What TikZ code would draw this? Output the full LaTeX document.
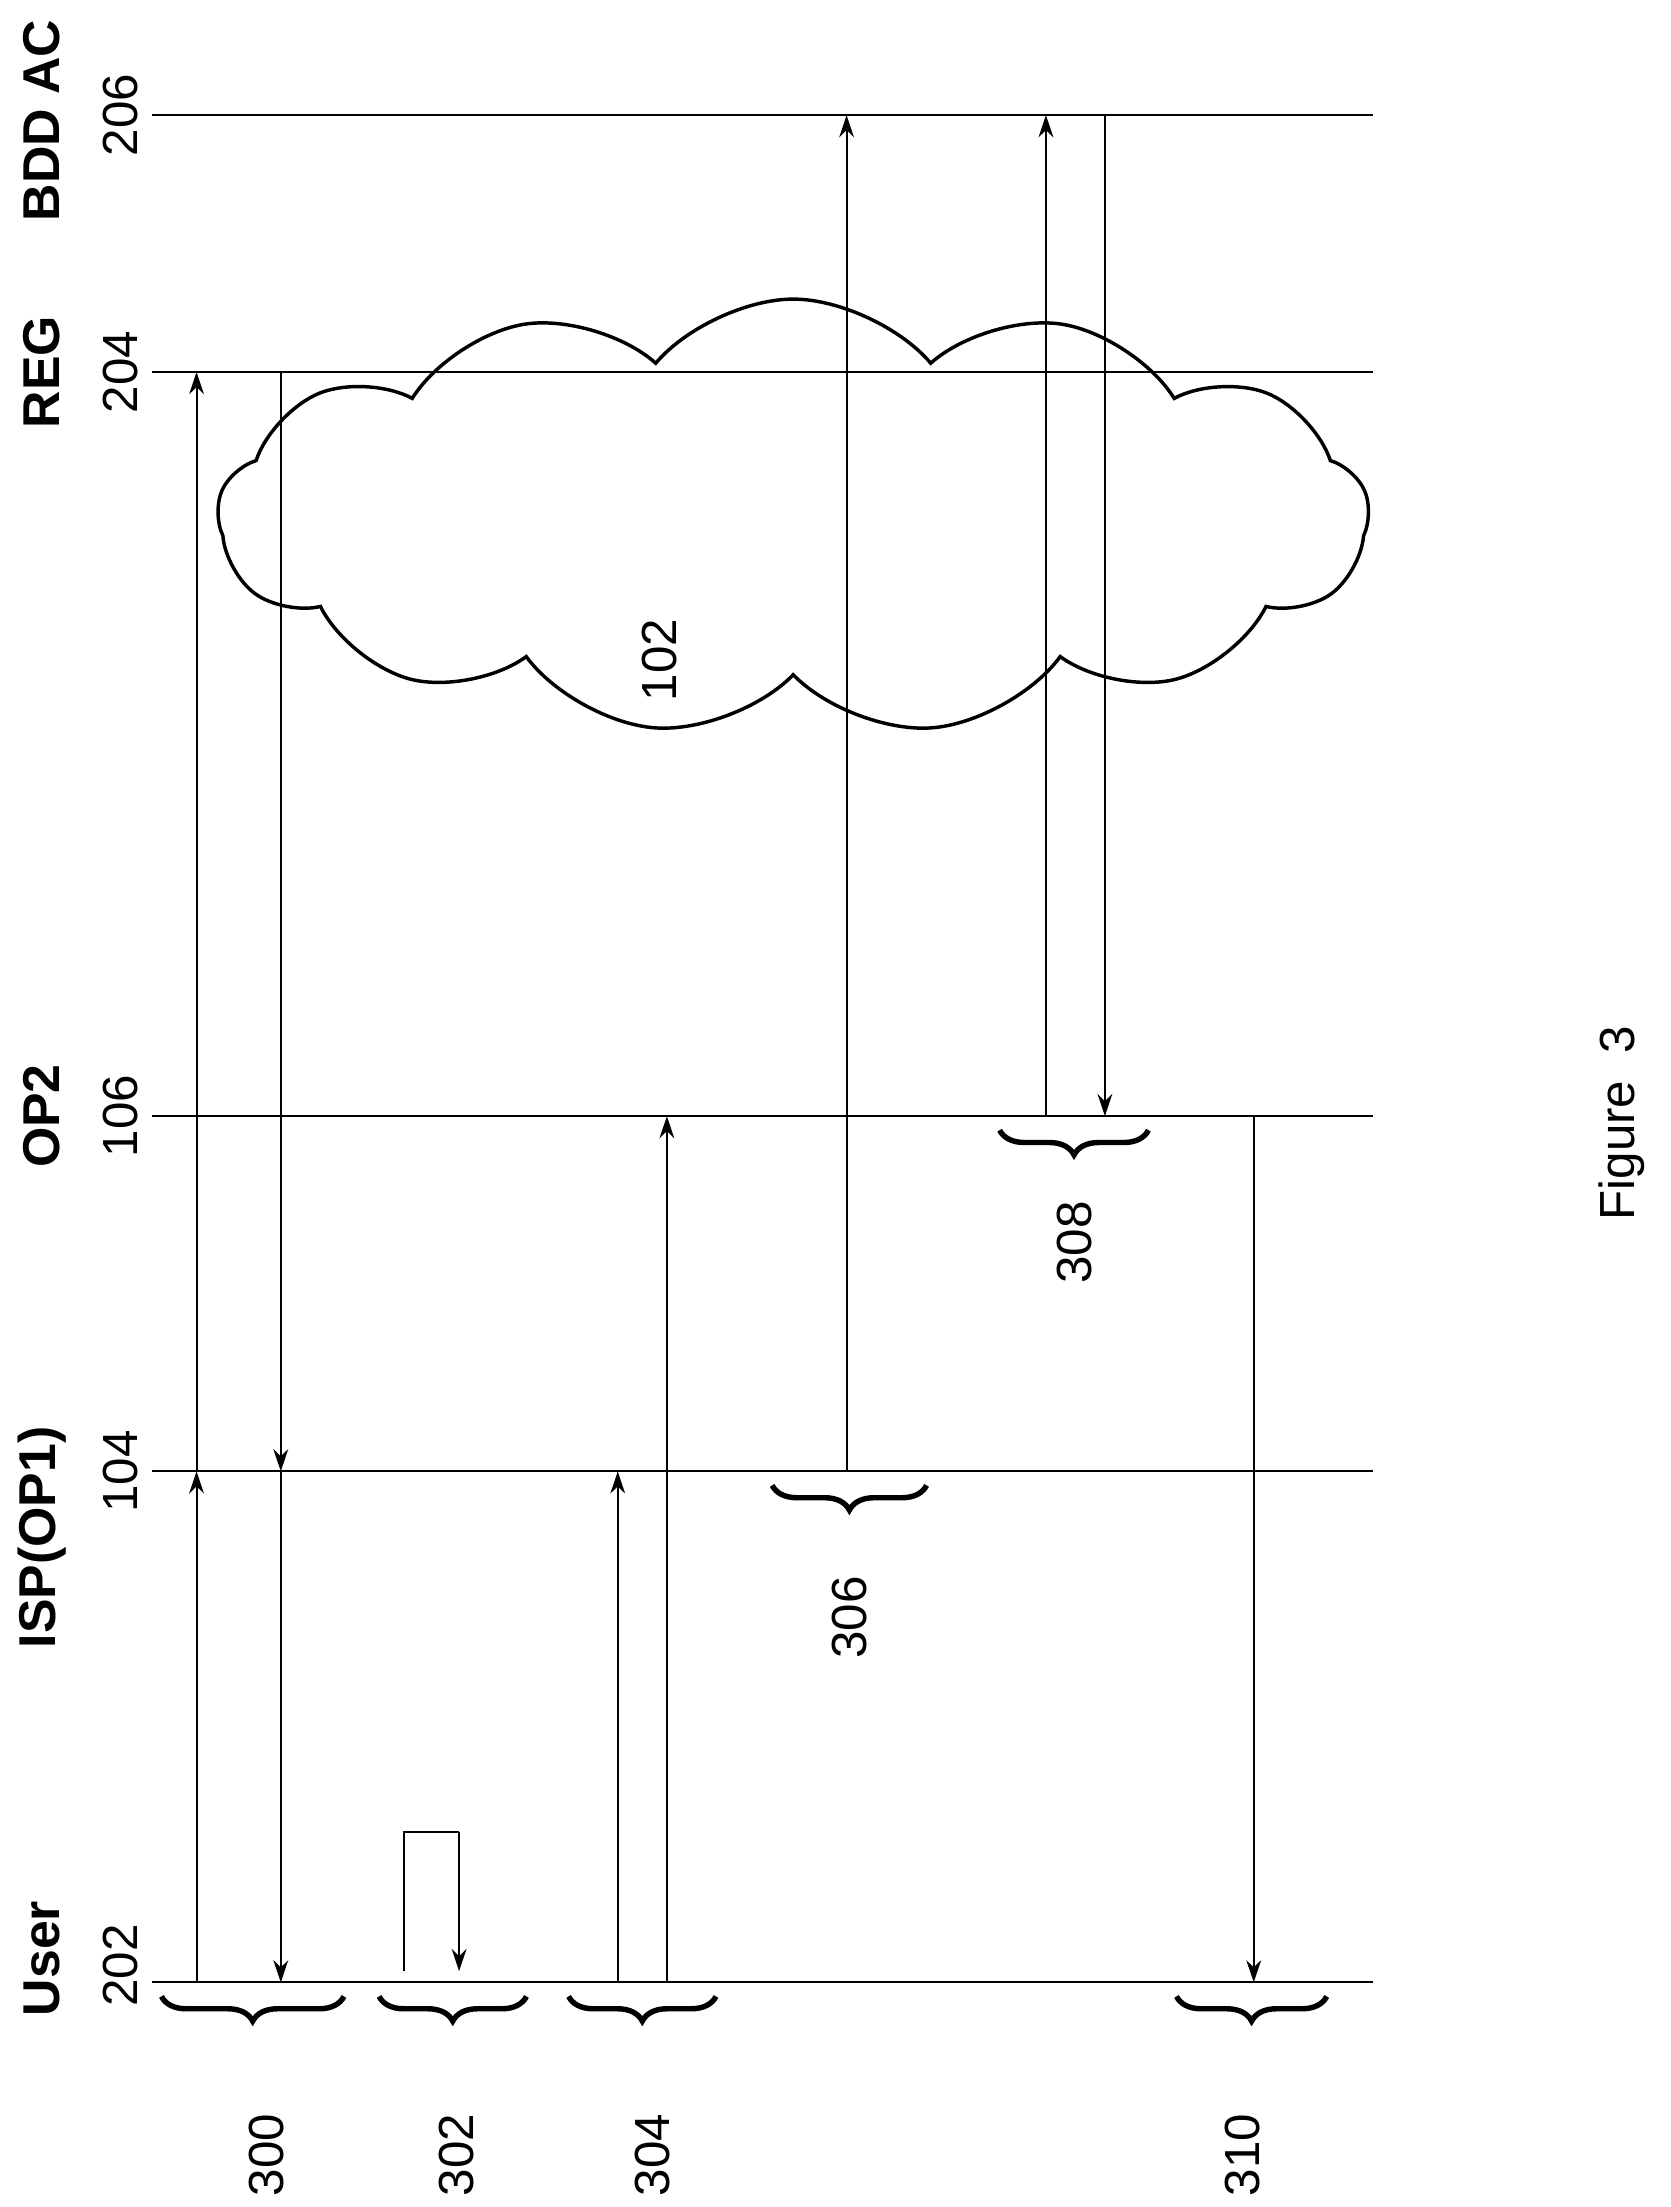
\documentclass[tikz,border=0pt]{standalone}
\usepackage{fontspec}
\setmainfont{Liberation Sans}
\usetikzlibrary{shapes.symbols,decorations.pathreplacing,arrows.meta,calc}
\begin{document}
\begin{tikzpicture}[x=0.02cm,y=-0.02cm,
  life/.style={line width=0.8pt},
  msg/.style={line width=0.8pt,-{Stealth[length=9pt,width=6pt]}},
  brc/.style={decorate,decoration={brace,amplitude=10pt,mirror},line width=2.2pt},
  lbl/.style={rotate=90,font=\fontsize{20}{24}\selectfont},
  hd/.style={rotate=90,font=\bfseries\fontsize{21}{25}\selectfont,inner sep=1pt}]
\useasboundingbox (0,0) rectangle (1190,1572);
% lifelines
\foreach \n/\y in {user/1412,isp/1048,op/795,reg/265,bdd/82}{
  \coordinate (\n L) at (108,\y); \coordinate (\n R) at (978,\y);
  \draw[life] (\n L) -- (\n R);}
% headers
\node[hd] (hU) at (30,1395) {User};
\node[lbl] (nU) at (86,1400) {202};
\node[hd] (hI) at (30,1095) {ISP(OP1)};
\node[lbl] (nI) at (86,1048) {104};
\node[hd] (hO) at (30,795) {OP2};
\node[lbl] (nO) at (86,795) {106};
\node[hd] (hR) at (30,265) {REG};
\node[lbl] (nR) at (86,265) {204};
\node[hd,anchor=east] (hB) at (30,12) {BDD AC};
\node[lbl] (nB) at (86,82) {206};
% cloud
\node[cloud,draw,line width=1.4pt,cloud puffs=13,cloud puff arc=100,aspect=2.6,
  minimum width=16.4cm,minimum height=6.2cm] (cl) at (565,368) {};
\node[lbl] (c102) at (470,470) {102};
% coordinates for messages
\foreach \x in {140,200,288,327,440,475,603,745,787,893}{
  \coordinate (u\x) at (\x,1412); \coordinate (i\x) at (\x,1048);
  \coordinate (o\x) at (\x,795); \coordinate (r\x) at (\x,265); \coordinate (b\x) at (\x,82);}
% 300
\draw[msg] (u140) -- (i140); \draw[msg] (i140) -- (r140);
\draw[msg] (r200) -- (i200); \draw[msg] (i200) -- (u200);
% 302
\coordinate (s1) at (288,1305); \coordinate (s2) at (327,1305);
\draw[line width=0.8pt] ($(u288)+(0,-8)$) -- (s1) -- (s2);
\draw[msg] (s2) -- ($(u327)+(0,-8)$);
% 304
\draw[msg] (u440) -- (i440);
\draw[msg] (u475) -- (o475);
% 306
\draw[msg] (i603) -- (b603);
% 308
\draw[msg] (o745) -- (b745);
\draw[msg] (b787) -- (o787);
% 310
\draw[msg] (o893) -- (u893);
% braces
\draw[brc] (115,1422) -- (245,1422);
\draw[brc] (270,1422) -- (375,1422);
\draw[brc] (405,1422) -- (510,1422);
\draw[brc] (838,1422) -- (945,1422);
\draw[brc] (550,1058) -- (660,1058);
\draw[brc] (712,805) -- (818,805);
\node[lbl] (l300) at (190,1535) {300};
\node[lbl] (l302) at (325,1535) {302};
\node[lbl] (l304) at (465,1535) {304};
\node[lbl] (l310) at (885,1535) {310};
\node[lbl] (l306) at (605,1152) {306};
\node[lbl] (l308) at (765,885) {308};
\node[lbl] (fig) at (1155,800) {Figure\ \ 3};
\end{tikzpicture}
\end{document}
